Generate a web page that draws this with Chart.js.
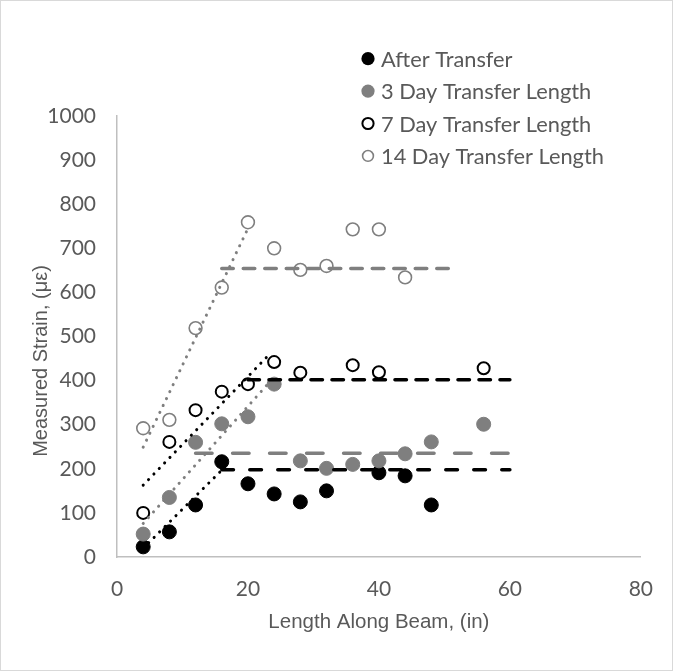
<!DOCTYPE html>
<html>
<head>
<meta charset="utf-8">
<script src="https://cdn.jsdelivr.net/npm/chart.js@4.4.1/dist/chart.umd.min.js"></script>
<style>
html,body{margin:0;padding:0;background:#ffffff;}
canvas{display:block;}
</style>
</head>
<body>
<canvas id="c" width="673" height="671"></canvas>
<script>
// ---------- data ----------
const seriesNames = ['After Transfer', '3 Day Transfer Length', '7 Day Transfer Length', '14 Day Transfer Length'];

const afterX = [4, 8, 12, 16, 20, 24, 28, 32, 40, 44, 48];
const afterY = [23, 57, 118, 216, 166, 143, 125, 150, 191, 184, 118];

const day3X = [4, 8, 12, 16, 20, 24, 28, 32, 36, 40, 44, 48, 56];
const day3Y = [52, 135, 260, 302, 318, 392, 218, 201, 210, 218, 234, 261, 301];

const day7X = [4, 8, 12, 16, 20, 24, 28, 36, 40, 56];
const day7Y = [100, 261, 333, 375, 392, 442, 418, 435, 419, 428];

const day14X = [4, 8, 12, 16, 20, 24, 28, 32, 36, 40, 44];
const day14Y = [292, 311, 519, 611, 759, 700, 651, 660, 743, 743, 634];

// trend lines (start / end)
const afterRiseX = [4, 16],   afterRiseY = [20, 197];
const afterFlatX = [16, 60],  afterFlatY = [198, 198];
const day3RiseX  = [4, 23.5], day3RiseY  = [76, 400];
const day3FlatX  = [12, 60],  day3FlatY  = [235, 235];
const day7RiseX  = [4, 23.3], day7RiseY  = [163, 460];
const day7FlatX  = [20, 60],  day7FlatY  = [402, 402];
const day14RiseX = [4, 20],   day14RiseY = [249, 745];
const day14FlatX = [16, 52],  day14FlatY = [654, 654];

const xTicks = [0, 20, 40, 60, 80];
const yTicks = [0, 100, 200, 300, 400, 500, 600, 700, 800, 900, 1000];
const xTitle = 'Length Along Beam, (in)';
const yTitle = 'Measured Strain, (\u03bc\u03b5)';

// ---------- helpers ----------
const pts = (xs, ys) => xs.map((x, i) => ({x: x, y: ys[i]}));
const BLACK = '#000000';
const GRAY = '#7f7f7f';
const TEXT = '#595959';

function series(label, xs, ys, color, filled, r, bw, order, legendR, legendBW) {
  return {
    type: 'scatter', label: label, data: pts(xs, ys), order: order,
    isSeries: true, filled: filled, legendR: legendR, legendBW: legendBW,
    pointRadius: r, pointHoverRadius: r, pointBorderWidth: bw,
    pointBackgroundColor: filled ? color : 'rgba(0,0,0,0)',
    pointBorderColor: color,
    backgroundColor: filled ? color : 'rgba(0,0,0,0)', borderColor: color,
    showLine: false
  };
}
function trend(xs, ys, color, dash, width) {
  return {
    type: 'line', label: '', data: pts(xs, ys), order: 0, isSeries: false,
    borderColor: color, borderWidth: width, borderDash: dash,
    borderCapStyle: 'round', pointRadius: 0, pointHoverRadius: 0,
    fill: false, tension: 0
  };
}

const DOT = [0.1, 7.6];

const datasets = [
  series(seriesNames[0], afterX, afterY, BLACK, true, 7, 1, 4, 6.6, 0),
  series(seriesNames[1], day3X, day3Y, GRAY, true, 7, 1, 3, 6.6, 0),
  series(seriesNames[2], day7X, day7Y, BLACK, false, 6, 2, 2, 5.6, 2),
  series(seriesNames[3], day14X, day14Y, GRAY, false, 6.4, 1.6, 1, 5.4, 1.6),
  trend(afterRiseX, afterRiseY, BLACK, DOT, 3),
  trend(afterFlatX, afterFlatY, BLACK, [11.7, 16.3], 3.5),
  trend(day3RiseX, day3RiseY, GRAY, DOT, 3),
  trend(day3FlatX, day3FlatY, GRAY, [16.5, 20.5], 3.5),
  trend(day7RiseX, day7RiseY, BLACK, DOT, 3),
  trend(day7FlatX, day7FlatY, BLACK, [11.5, 9.5], 3.5),
  trend(day14RiseX, day14RiseY, GRAY, DOT, 3),
  trend(day14FlatX, day14FlatY, GRAY, [11.5, 10], 3.5)
];

// ---------- plugins ----------
const frame = {
  id: 'frame',
  beforeDraw(chart) {
    const ctx = chart.ctx;
    ctx.save();
    ctx.fillStyle = '#ffffff';
    ctx.fillRect(0, 0, chart.width, chart.height);
    ctx.strokeStyle = '#d9d9d9';
    ctx.lineWidth = 1;
    ctx.strokeRect(0.5, 0.5, chart.width - 1, chart.height - 1);
    ctx.restore();
  }
};

const yTitlePlugin = {
  id: 'yTitle',
  afterDraw(chart) {
    const ctx = chart.ctx;
    ctx.save();
    ctx.translate(41, 361);
    ctx.rotate(-Math.PI / 2);
    ctx.font = '20px "Liberation Sans", Arial, sans-serif';
    ctx.fillStyle = TEXT;
    ctx.textAlign = 'center';
    ctx.textBaseline = 'middle';
    ctx.fillText(yTitle, 0, 0);
    ctx.restore();
  }
};

const legendPlugin = {
  id: 'customLegend',
  afterDraw(chart) {
    const ctx = chart.ctx;
    const items = chart.data.datasets.filter(d => d.isSeries);
    ctx.save();
    ctx.font = '21.8px Lato, sans-serif';
    ctx.textBaseline = 'middle';
    ctx.textAlign = 'left';
    items.forEach((ds, i) => {
      const y = 58.7 + i * 32.4;
      const x = 368;
      ctx.beginPath();
      ctx.arc(x, y, ds.legendR, 0, Math.PI * 2);
      if (ds.filled) {
        ctx.fillStyle = ds.borderColor;
        ctx.fill();
      } else {
        ctx.lineWidth = ds.legendBW;
        ctx.strokeStyle = ds.borderColor;
        ctx.stroke();
      }
      ctx.fillStyle = TEXT;
      ctx.fillText(ds.label, 381, y + 1);
    });
    ctx.restore();
  }
};

// ---------- chart ----------
new Chart(document.getElementById('c'), {
  type: 'scatter',
  data: { datasets: datasets },
  plugins: [frame, yTitlePlugin, legendPlugin],
  options: {
    responsive: false,
    animation: false,
    layout: { padding: { top: 116, right: 28, bottom: 0, left: 0 } },
    plugins: { legend: { display: false }, tooltip: { enabled: false } },
    scales: {
      x: {
        type: 'linear', min: 0, max: 80,
        afterBuildTicks: s => { s.ticks = xTicks.map(v => ({value: v})); },
        afterFit: s => { s.height = 114; },
        grid: { display: false, drawTicks: false },
        border: { display: true, color: '#bfbfbf', width: 1.5 },
        ticks: { color: TEXT, font: { family: 'Lato', size: 21 }, padding: 20, maxRotation: 0,
                 callback: v => String(v) },
        title: { display: true, text: xTitle, color: TEXT,
                 font: { family: '"Liberation Sans", Arial', size: 20.5 },
                 padding: { top: 0, bottom: 36 } }
      },
      y: {
        type: 'linear', min: 0, max: 1000,
        afterBuildTicks: s => { s.ticks = yTicks.map(v => ({value: v})); },
        afterFit: s => { s.width = 117; },
        grid: { display: false, drawTicks: false },
        border: { display: true, color: '#bfbfbf', width: 1.5 },
        ticks: { color: TEXT, font: { family: 'Lato', size: 21 }, padding: 21,
                 callback: v => String(v) },
        title: { display: false }
      }
    }
  }
});
</script>
</body>
</html>
